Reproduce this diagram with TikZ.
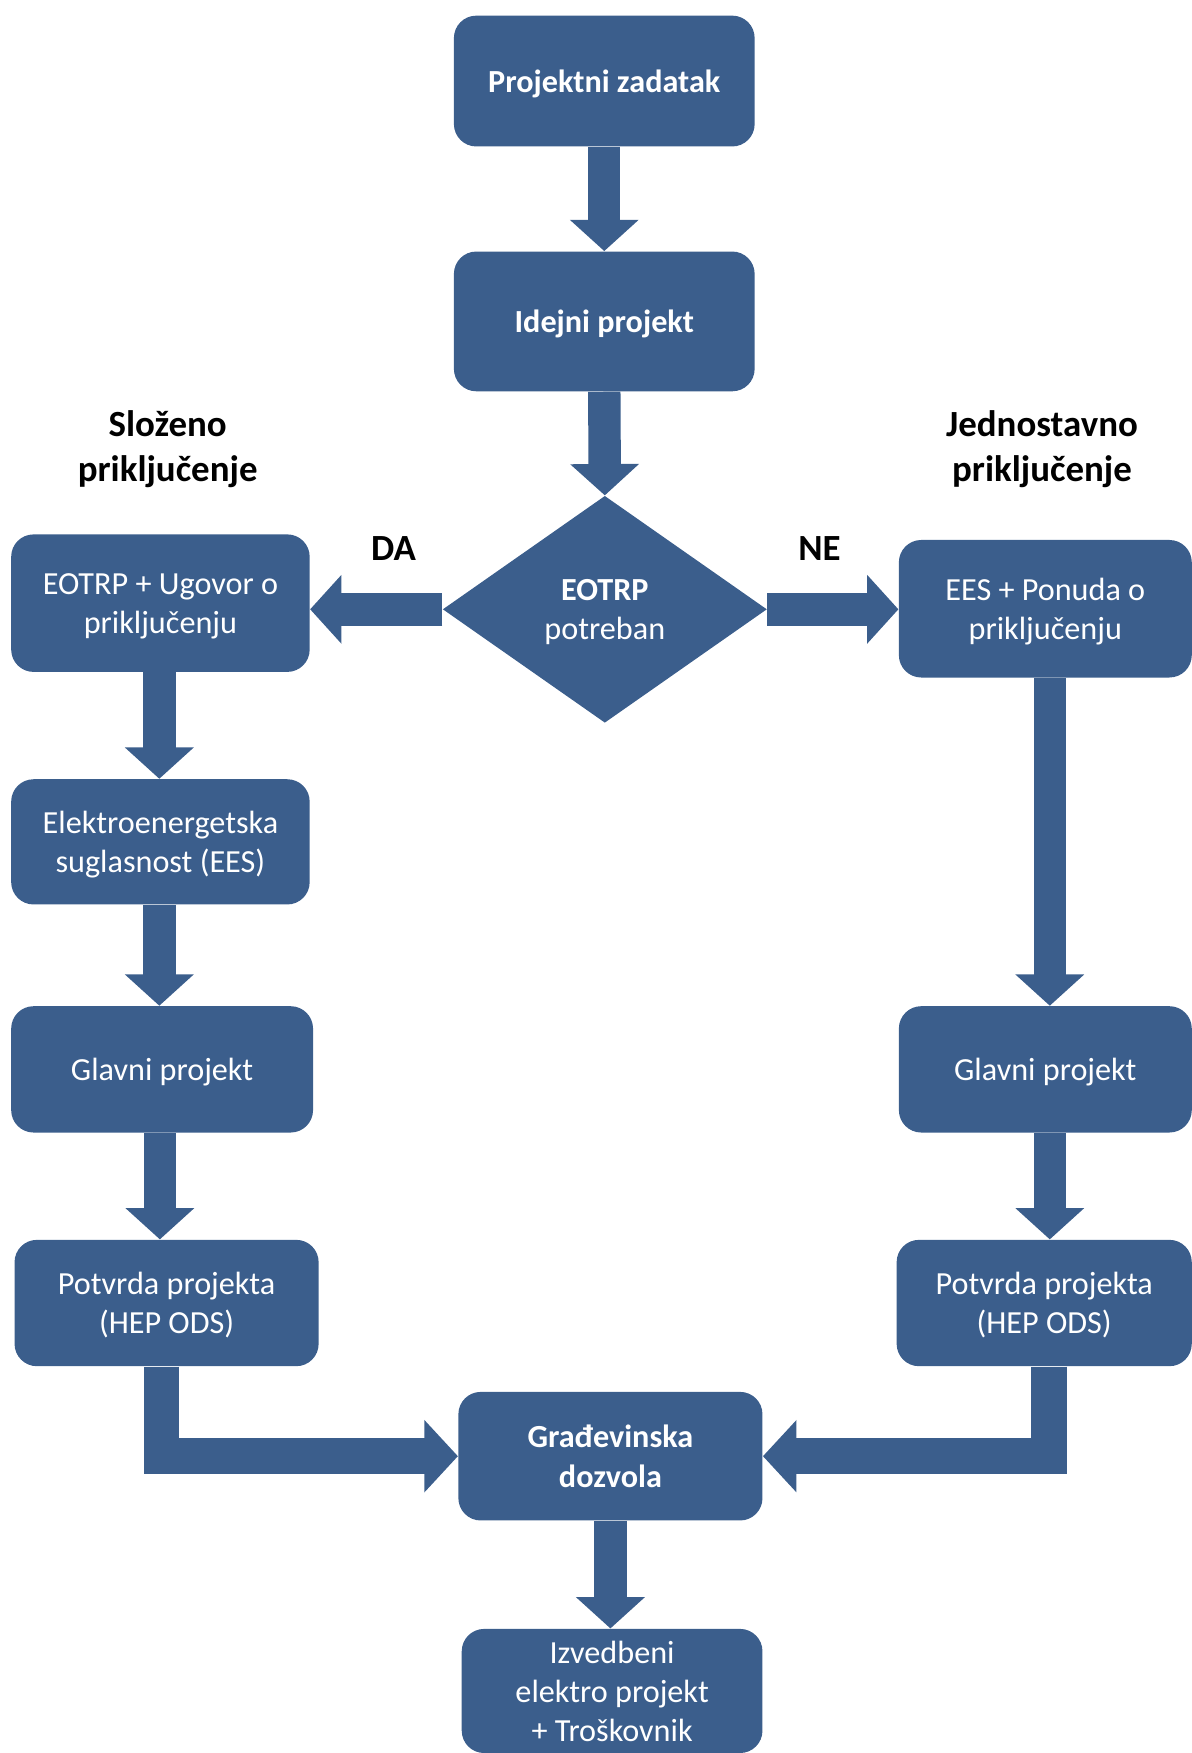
\documentclass[tikz,border=0pt]{standalone}
\usepackage{fontspec}
\setmainfont{Carlito}
\usetikzlibrary{arrows.meta,shapes.geometric}
\definecolor{boxblue}{RGB}{59,94,140}
\begin{document}
\begin{tikzpicture}[x=0.5pt,y=-0.5pt,
  box/.style={fill=boxblue, text=white, rounded corners=10pt, align=center, inner sep=0pt,
    text depth=0pt, font=\fontsize{14.4}{17.5}\selectfont},
  boldbox/.style={box, font=\bfseries\fontsize{14.4}{17.5}\selectfont},
  flow/.style={draw=boxblue, line width=14.5pt, -{Triangle[length=14pt,width=30pt]}},
  elbow/.style={draw=boxblue, line width=16pt, line join=miter, -{Triangle[length=15pt,width=31.5pt]}},
  head/.style={font=\bfseries\fontsize{16.5}{20}\selectfont, align=center, inner sep=0pt, text depth=0pt}]
\useasboundingbox (0,0) rectangle (1066,1568);

% top
\node[boldbox, minimum width=134.5pt, minimum height=58.5pt] (pz) at (540.5,72.5) {Projektni zadatak};
\node[boldbox, minimum width=134.5pt, minimum height=62.5pt] (ip) at (540.5,287.5) {Idejni projekt};
\node[diamond, fill=boxblue, text=white, inner sep=0pt, minimum width=145pt, minimum height=101.5pt,
  align=center, text depth=0pt, font=\fontsize{14.4}{17.5}\selectfont] (d) at (541,545) {\textbf{EOTRP}\\potreban};

% left column
\node[box, minimum width=133.5pt, minimum height=61.5pt] (e1) at (143.5,539.5) {EOTRP + Ugovor o\\priključenju};
\node[box, minimum width=133.5pt, minimum height=56pt] (ees) at (143.5,753) {Elektroenergetska\\suglasnost (EES)};
\node[box, minimum width=135pt, minimum height=56.5pt] (gl) at (145,956.5) {Glavni projekt};
\node[box, minimum width=136pt, minimum height=56.5pt] (pl) at (149,1165.5) {Potvrda projekta\\(HEP ODS)};

% right column
\node[box, minimum width=131pt, minimum height=61.5pt] (e2) at (935,544.5) {EES + Ponuda o\\priključenju};
\node[box, minimum width=131pt, minimum height=56.5pt] (gr) at (935,956.5) {Glavni projekt};
\node[box, minimum width=132pt, minimum height=56.5pt] (pr) at (934,1165.5) {Potvrda projekta\\(HEP ODS)};

% bottom
\node[boldbox, minimum width=136pt, minimum height=57.5pt] (gd) at (546,1302.5) {Građevinska\\dozvola};
\node[box, minimum width=134.5pt, minimum height=55.5pt] (iz) at (547.5,1512.5) {Izvedbeni\\elektro projekt\\+ Troškovnik};

% labels
\node[head] (lab1) at (150,399) {Složeno\\priključenje};
\node[head] (lab2) at (932,399) {Jednostavno\\priključenje};
\node[head] (da) at (352,491) {DA};
\node[head] (ne) at (733,491) {NE};

% connectors
\draw[flow] (pz.south) -- (ip.north);
\draw[flow] (ip.south) -- (d.north);
\draw[flow] (d.west) -- (d.west -| e1.east);
\draw[flow] (d.east) -- (d.east -| e2.west);
\draw[flow] ([xshift=-0.5pt]e1.south) -- ([xshift=-0.5pt]e1.south |- ees.north);
\draw[flow] ([xshift=-0.5pt]ees.south) -- ([xshift=-0.5pt]ees.south |- gl.north);
\draw[flow] ([xshift=-1pt]gl.south) -- ([xshift=-1pt]gl.south |- pl.north);
\draw[flow] ([xshift=2pt]e2.south) -- ([xshift=2pt]e2.south |- gr.north);
\draw[flow] ([xshift=2pt]gr.south) -- ([xshift=2pt]gr.south |- pr.north);
\draw[elbow] ([xshift=-2.25pt]pl.south) |- (gd.west);
\draw[elbow] ([xshift=2pt]pr.south) |- (gd.east);
\draw[flow] (gd.south) -- (gd.south |- iz.north);
\end{tikzpicture}
\end{document}
